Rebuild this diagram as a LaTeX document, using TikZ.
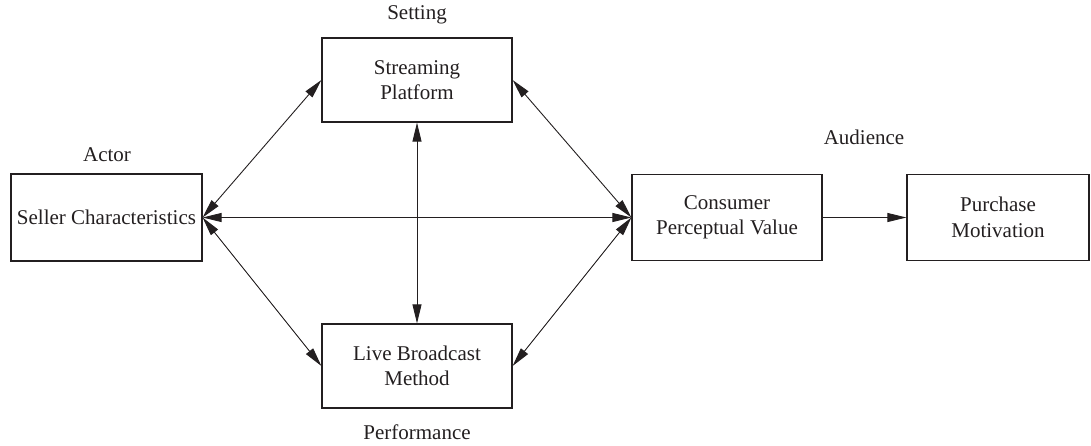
\documentclass[tikz,border=0pt]{standalone}
\usepackage{fontspec}
\setmainfont{Liberation Serif}
\usetikzlibrary{arrows.meta}
\definecolor{ink}{HTML}{231F20}
\begin{document}
\begin{tikzpicture}[x=1pt,y=-1pt,
  font=\fontsize{21}{25.5}\selectfont,
  box/.style={draw=ink,line width=1.2pt,text=ink,align=center,inner sep=0pt},
  lab/.style={text=ink,inner sep=0pt},
  tip/.style={-{Triangle[length=19pt,width=9pt]}},
  both/.style={{Triangle[length=19pt,width=9pt]}-{Triangle[length=19pt,width=9pt]}},
  conn/.style={draw=ink,line width=0.9pt}]
\useasboundingbox (0,0) rectangle (1091,445);
\node[box,minimum width=191pt,minimum height=87pt] (sel) at (106.5,217.5) {Seller Characteristics};
\node[box,minimum width=190pt,minimum height=84pt] (str) at (417,80) {Streaming\\Platform};
\node[box,minimum width=190pt,minimum height=84pt] (live) at (417,366) {Live Broadcast\\Method};
\node[box,minimum width=190pt,minimum height=86pt] (con) at (727,217.5) {Consumer\\Perceptual Value};
\node[box,minimum width=182pt,minimum height=86pt] (pur) at (998,217.5) {Purchase\\Motivation};
\node[lab] (set) at (417,15) {Setting};
\node[lab] (act) at (107,155) {Actor};
\node[lab] (aud) at (864,137) {Audience};
\node[lab] (perf) at (417,432) {Performance};
\draw[conn,both] (sel.east) -- (str.west);
\draw[conn,both] (sel.east) -- (live.west);
\draw[conn,both] (sel.east) -- (con.west);
\draw[conn,both] (str.south) -- (live.north);
\draw[conn,both] (str.east) -- (con.west);
\draw[conn,both] (live.east) -- (con.west);
\draw[conn,tip] (con.east) -- (pur.west);
\end{tikzpicture}
\end{document}
